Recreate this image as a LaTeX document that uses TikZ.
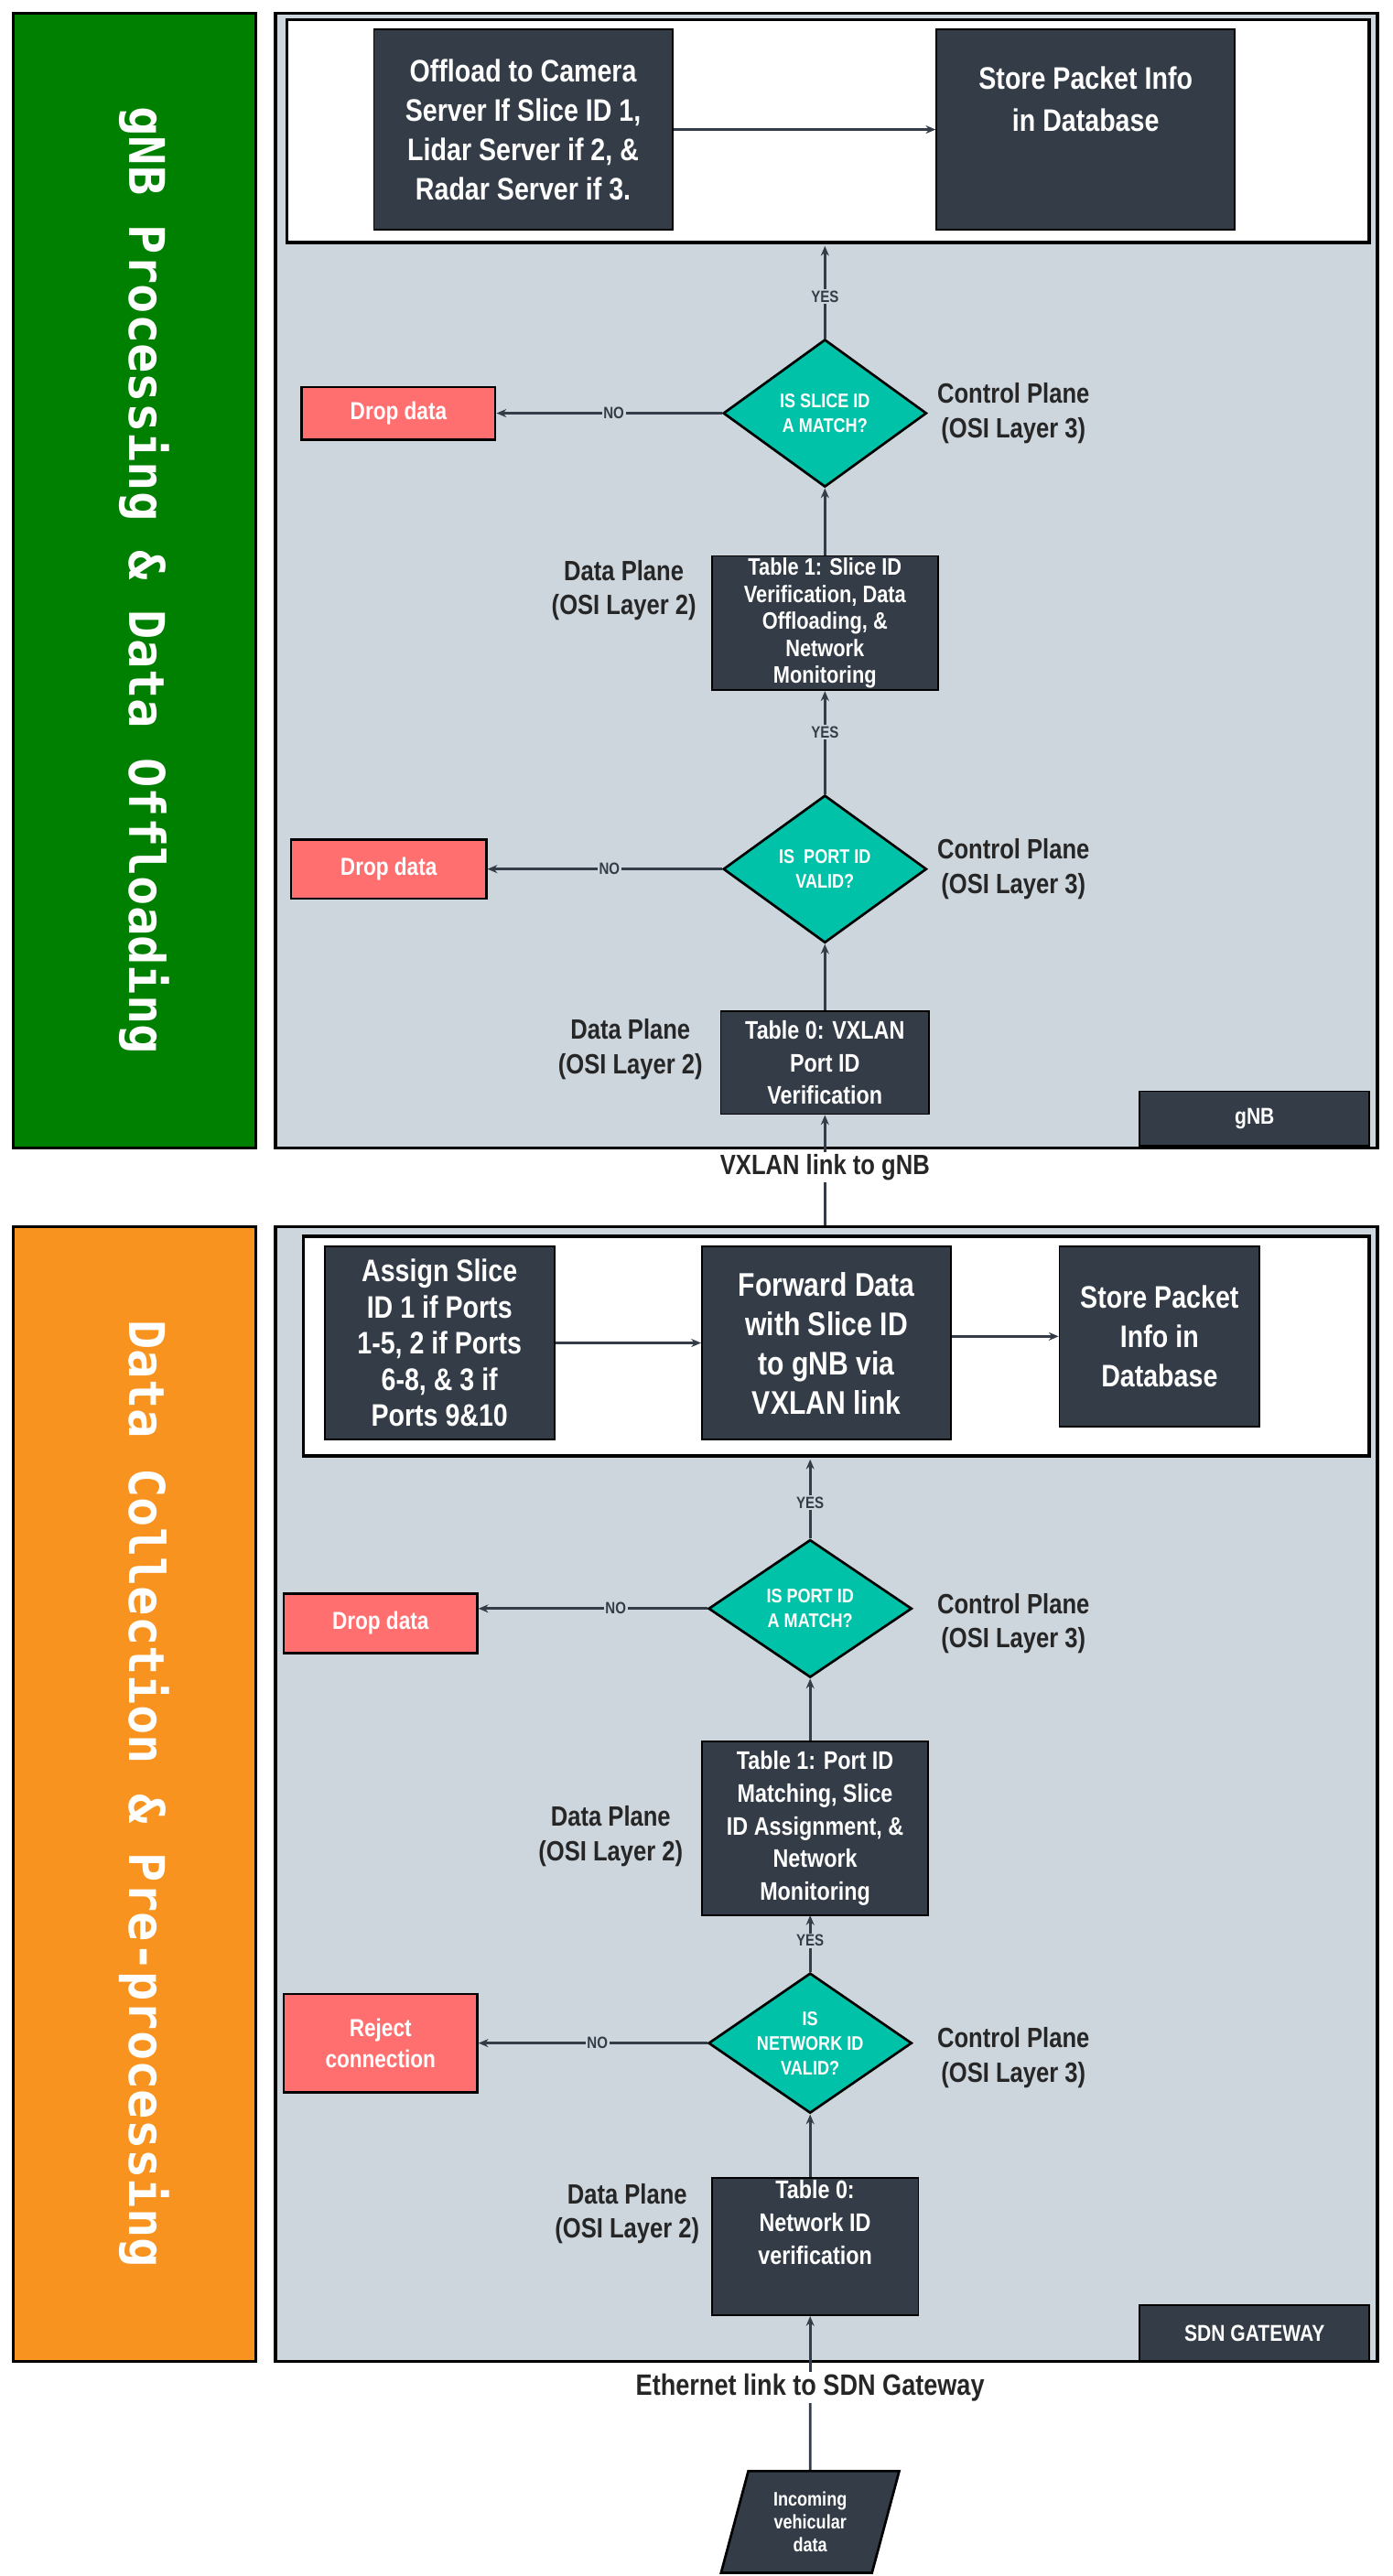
\documentclass[tikz,border=0pt]{standalone}
\usepackage{fontspec}
\setmainfont{Liberation Sans}[FakeStretch=0.84]
\newfontfamily\monof{DejaVu Sans Mono}
\usetikzlibrary{shapes.geometric,arrows.meta}
\definecolor{dk}{HTML}{333C47}
\definecolor{gr}{HTML}{CDD5DD}
\definecolor{tl}{HTML}{00C2A8}
\definecolor{rd}{HTML}{FF6F6F}
\definecolor{gn}{HTML}{008000}
\definecolor{og}{HTML}{F7931E}
\begin{document}
\begin{tikzpicture}[x=1pt,y=-1pt,font=\bfseries,
 panel/.style={draw=black,line width=2pt},
 dbox/.style={fill=dk,draw=black,line width=1pt,text=white,align=center,font=\bfseries\fontsize{19}{23}\selectfont,inner sep=0pt},
 rbox/.style={fill=rd,draw=black,line width=1.5pt,text=white,align=center,font=\bfseries\fontsize{15}{19}\selectfont,inner sep=0pt},
 dia/.style={diamond,fill=tl,draw=black,line width=1.5pt,text=white,align=center,font=\bfseries\fontsize{12}{15}\selectfont,inner sep=0pt,aspect=1.38,minimum width=124pt,minimum height=90pt},
 lab/.style={align=center,font=\bfseries\fontsize{17}{21}\selectfont,text=black!85},
 yn/.style={fill=gr,inner sep=1pt,font=\bfseries\fontsize{10}{11}\selectfont,text=dk},
 tb/.style={font=\bfseries\fontsize{15.5}{20}\selectfont},
 arr/.style={draw=dk,line width=1.5pt,-{Stealth[length=6pt,width=5pt]}}]
\useasboundingbox (0,0) rectangle (849,1571);
\fill[white] (0,0) rectangle (849,1571);
% side panels
\draw[panel,fill=gn] (8,8) rectangle (156,700);
\node[rotate=-90,text=white,font=\monof\bfseries\fontsize{30}{32}\selectfont] (t1) at (88,354) {gNB Processing \& Data Offloading};
\draw[panel,fill=og] (8,748) rectangle (156,1440);
\node[rotate=-90,text=white,font=\monof\bfseries\fontsize{30}{32}\selectfont] (t2) at (88,1094) {Data Collection \& Pre-processing};
% gNB panel
\draw[panel,fill=gr] (168,8) rectangle (840,700);
\draw[panel,fill=white] (175,12) rectangle (835,148);
\node[dbox,minimum width=182pt,minimum height=122pt,font=\bfseries\fontsize{19}{24}\selectfont] (a1) at (319,79) {Offload to Camera\\Server If Slice ID 1,\\Lidar Server if 2, \&\\Radar Server if 3.};
\node[dbox,minimum width=182pt,minimum height=122pt,font=\bfseries\fontsize{19}{26}\selectfont] (a2) at (662,79) {Store Packet Info\\in Database\\[0.6em]};
\draw[arr] (a1) -- (a2);
\node[dia] (d1) at (503,252) {IS SLICE ID\\A MATCH?};
\node[rbox,minimum width=118pt,minimum height=32pt] (r1) at (243,252) {Drop data};
\node[lab,anchor=west] (c1) at (568,252) {Control Plane\\(OSI Layer 3)};
\node[dbox,minimum width=138pt,minimum height=82pt,font=\bfseries\fontsize{14.5}{16.5}\selectfont] (b1) at (503,380) {Table 1: Slice ID\\Verification, Data\\Offloading, \&\\Network\\Monitoring};
\node[lab,anchor=east] (p1) at (428,360) {Data Plane\\(OSI Layer 2)};
\node[dia] (d2) at (503,530) {IS~ PORT ID\\VALID?};
\node[rbox,minimum width=119pt,minimum height=36pt] (r2) at (237,530) {Drop data};
\node[lab,anchor=west] (c2) at (568,530) {Control Plane\\(OSI Layer 3)};
\node[dbox,tb,minimum width=127pt,minimum height=63pt] (b0) at (503,648) {Table 0: VXLAN\\Port ID\\Verification};
\node[lab,anchor=east] (p2) at (432,640) {Data Plane\\(OSI Layer 2)};
\node[dbox,minimum width=140pt,minimum height=33pt,font=\bfseries\fontsize{14}{16}\selectfont] (g1) at (765,682) {gNB};
\draw[arr] (d1) -- node[yn,pos=0.45]{YES} (503,150);
\draw[arr] (d1) -- node[yn,pos=0.48]{NO} (r1);
\draw[arr] (b1) -- (d1);
\draw[arr] (d2) -- node[yn,pos=0.6]{YES} (b1);
\draw[arr] (d2) -- node[yn,pos=0.48]{NO} (r2);
\draw[arr] (b0) -- (d2);
% link
\coordinate (l1) at (503,748);
\node[lab,fill=white,inner sep=1pt] (vx) at (503,712) {VXLAN link to gNB};
\draw[draw=dk,line width=1.5pt] (l1) -- (vx);
\draw[arr] (vx) -- (b0);
% SDN panel
\draw[panel,fill=gr] (168,748) rectangle (840,1440);
\draw[panel,fill=white] (185,754) rectangle (835,888);
\node[dbox,minimum width=140pt,minimum height=118pt,font=\bfseries\fontsize{19}{22}\selectfont] (e1) at (268,819) {Assign Slice\\ID 1 if Ports\\1-5, 2 if Ports\\6-8, \& 3 if\\Ports 9\&10};
\node[dbox,minimum width=152pt,minimum height=118pt,font=\bfseries\fontsize{20}{24}\selectfont] (e2) at (504,819) {Forward Data\\with Slice ID\\to gNB via\\VXLAN link};
\node[dbox,minimum width=122pt,minimum height=110pt,font=\bfseries\fontsize{19}{24}\selectfont] (e3) at (707,815) {Store Packet\\Info in\\Database};
\draw[arr] (e1) -- (e2);
\draw[arr] (e2.east|-e3) -- (e3);
\node[dia,minimum height=84pt] (d3) at (494,981) {IS PORT ID\\A MATCH?};
\node[rbox,minimum width=118pt,minimum height=36pt] (r3) at (232,990) {Drop data};
\node[lab,anchor=west] (c3) at (568,990) {Control Plane\\(OSI Layer 3)};
\node[dbox,tb,minimum width=138pt,minimum height=106pt] (f1) at (497,1115) {Table 1: Port ID\\Matching, Slice\\ID Assignment, \&\\Network\\Monitoring};
\node[lab,anchor=east] (p3) at (420,1120) {Data Plane\\(OSI Layer 2)};
\node[dia,minimum height=82pt] (d4) at (494,1246) {IS\\NETWORK ID\\VALID?};
\node[rbox,minimum width=118pt,minimum height=60pt] (r4) at (232,1246) {Reject\\connection};
\node[lab,anchor=west] (c4) at (568,1255) {Control Plane\\(OSI Layer 3)};
\node[dbox,tb,minimum width=126pt,minimum height=84pt] (f0) at (497,1370) {Table 0:\\Network ID\\verification\\[0.6em]};
\node[lab,anchor=east] (p4) at (430,1350) {Data Plane\\(OSI Layer 2)};
\node[dbox,minimum width=140pt,minimum height=34pt,font=\bfseries\fontsize{14}{16}\selectfont] (g2) at (765,1423) {SDN GATEWAY};
\draw[arr] (d3) -- node[yn,pos=0.45]{YES} (494,890);
\draw[arr] (d3.west) -- node[yn,pos=0.4]{NO} (r3.east|-d3.west);
\draw[arr] (f1.north-|d3) -- (d3);
\draw[arr] (d4) -- node[yn,pos=0.55]{YES} (494,1168);
\draw[arr] (d4) -- node[yn,pos=0.48]{NO} (r4);
\draw[arr] (f0.north-|d4) -- (d4);
% incoming
\node[trapezium,trapezium left angle=75,trapezium right angle=105,fill=dk,draw=black,line width=1.5pt,text=white,align=center,font=\bfseries\fontsize{12}{14}\selectfont,minimum width=70pt,minimum height=62pt,inner sep=0pt] (in) at (494,1538) {Incoming\\vehicular\\data};
\node[lab,fill=white,inner sep=1pt,font=\bfseries\fontsize{18}{20}\selectfont] (et) at (494,1456) {Ethernet link to SDN Gateway};
\draw[draw=dk,line width=1.5pt] (in) -- (et);
\draw[arr] (et) -- (f0.south-|d4);
\end{tikzpicture}
\end{document}
